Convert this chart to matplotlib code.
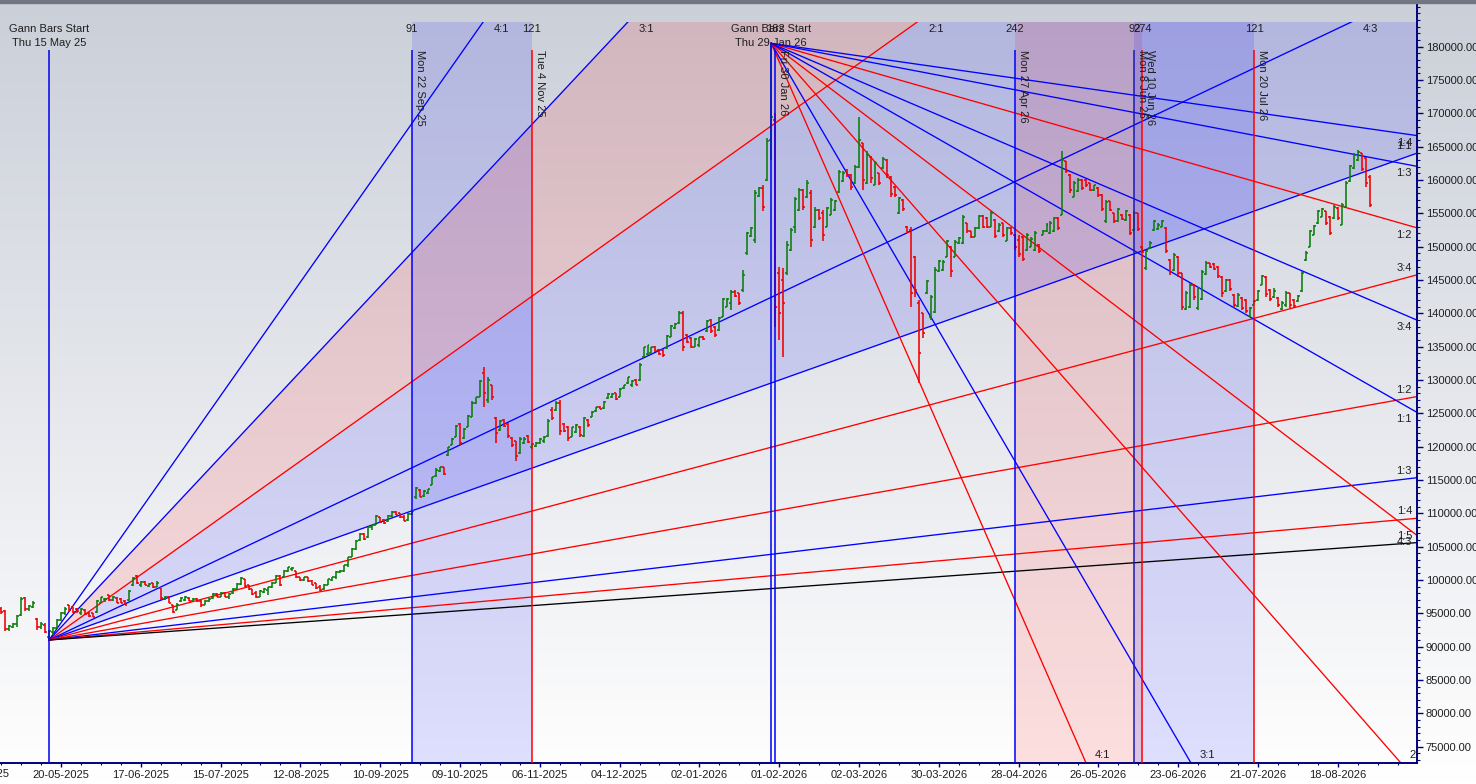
import numpy as np
import matplotlib.pyplot as plt
import matplotlib.transforms as mtransforms
from matplotlib.collections import LineCollection
from matplotlib.patches import Rectangle, Polygon

plt.rcParams['font.family'] = ['Liberation Sans', 'DejaVu Sans']

# ---------------- data ----------------
# bar index 0 = Thu 15 May 25 (first Gann start); prices in thousands
first_bar = -12
opens = [
    95.6, 95.3, 92.6, 93.0, 93.4, 94.7, 97.3, 95.7, 96.0, 94.2,
    92.9, 93.3, 91.5, 92.2, 92.8, 94.0, 95.0, 96.2, 95.9, 95.7,
    95.0, 95.5, 95.1, 95.0, 95.2, 96.6, 97.1, 97.7, 97.0, 97.3,
    97.1, 96.9, 97.0, 99.2, 100.6, 99.2, 99.7, 99.1, 99.5, 99.0,
    98.8, 97.1, 97.5, 96.3, 95.5, 96.8, 97.0, 97.3, 96.8, 97.2,
    96.9, 96.2, 96.8, 97.3, 97.9, 97.5, 98.1, 97.5, 98.0, 98.7,
    99.4, 100.1, 99.2, 98.6, 98.0, 97.5, 98.2, 98.5, 99.0, 99.6,
    100.6, 100.5, 101.3, 101.6, 101.3, 100.5, 100.0, 100.4, 99.9, 99.5,
    98.9, 98.6, 99.3, 100.0, 100.4, 101.2, 101.4, 102.2, 103.5, 104.6,
    106.0, 106.9, 106.4, 107.9, 108.3, 109.5, 109.0, 108.8, 109.6, 110.2,
    110.0, 109.5, 109.0, 109.9, 112.4, 113.5, 112.6, 113.1, 114.3, 115.6,
    116.3, 117.0, 118.8, 120.3, 121.5, 123.4, 121.3, 123.0, 124.5, 126.5,
    127.5, 131.0, 127.0, 129.2, 124.3, 122.5, 124.0, 123.4, 121.3, 120.8,
    119.0, 120.5, 121.6, 120.0, 120.1, 120.5, 120.8, 121.6, 125.5, 125.5,
    126.5, 123.4, 123.0, 121.5, 122.2, 123.0, 121.6, 124.0, 124.5, 125.3,
    126.0, 125.8, 127.3, 127.5, 128.0, 127.5, 128.8, 129.5, 129.2, 130.0,
    130.0, 133.5, 133.9, 134.1, 135.0, 134.5, 134.5, 134.8, 136.5, 137.8,
    138.5, 140.1, 136.8, 136.3, 135.0, 135.2, 136.5, 137.3, 139.0, 138.0,
    137.5, 139.5, 141.0, 141.5, 143.2, 143.0, 143.5, 149.0, 151.6, 151.0,
    157.6, 158.8, 160.0, 166.0, 169.0, 146.0, 145.0, 146.0, 149.5, 153.0,
    155.5, 158.5, 157.5, 158.0, 153.0, 155.5, 155.0, 153.0, 154.8, 155.5,
    158.2, 159.8, 161.5, 160.8, 159.5, 162.0, 165.5, 159.5, 163.5, 159.3,
    161.0, 161.8, 163.0, 160.5, 159.0, 155.0, 157.0, 153.0, 152.5, 148.5,
    141.5, 140.0, 143.0, 139.5, 140.2, 146.3, 146.5, 148.5, 150.0, 148.5,
    150.5, 150.5, 153.5, 152.3, 151.5, 152.8, 154.6, 154.3, 153.0, 154.0,
    152.3, 153.5, 150.9, 152.8, 151.8, 151.0, 151.5, 149.5, 150.0, 149.5,
    150.3, 151.8, 152.3, 152.0, 152.3, 154.3, 154.8, 162.8, 160.8, 157.5,
    158.3, 160.0, 160.0, 159.5, 158.5, 158.8, 157.8, 153.8, 156.8, 155.0,
    153.8, 154.8, 154.0, 154.8, 152.5, 155.0, 150.0, 146.8, 149.8, 152.5,
    152.6, 153.0, 152.8, 148.0, 146.5, 148.5, 146.0, 140.6, 141.0, 144.3,
    140.8, 142.2, 145.9, 147.5, 147.4, 147.0, 145.5, 143.3, 145.0, 142.8,
    141.1, 142.3, 142.0, 139.6, 141.3, 142.0, 144.3, 145.5, 143.5, 142.5,
    142.3, 140.6, 141.2, 143.0, 142.0, 141.8, 143.3, 148.0, 150.0, 151.8,
    153.5, 154.5, 155.3, 154.5, 154.3, 155.8, 153.3, 156.0, 159.8, 161.8,
    163.0, 164.0, 163.3, 160.5,
]
highs = [
    95.9, 95.5, 93.3, 93.6, 94.8, 97.5, 97.4, 96.3, 96.8, 94.3,
    93.7, 93.5, 92.5, 93.0, 94.2, 95.2, 95.9, 96.3, 96.0, 95.8,
    95.8, 95.6, 95.2, 95.1, 97.0, 97.5, 97.3, 97.8, 97.6, 97.4,
    97.3, 97.0, 98.5, 100.5, 100.8, 99.8, 99.8, 99.5, 99.6, 99.8,
    98.8, 97.6, 97.6, 96.3, 96.5, 97.5, 97.6, 97.4, 97.3, 97.3,
    97.0, 97.0, 97.3, 98.0, 98.0, 98.2, 98.2, 98.0, 98.8, 99.5,
    100.5, 100.2, 99.3, 98.7, 98.3, 98.5, 98.8, 99.0, 99.7, 100.8,
    100.7, 101.5, 102.0, 102.0, 101.3, 100.5, 100.5, 100.4, 100.0, 99.5,
    99.2, 99.4, 100.2, 100.5, 101.3, 101.5, 102.3, 103.5, 104.8, 106.0,
    107.0, 107.0, 108.0, 108.3, 109.8, 109.5, 109.2, 109.8, 110.3, 110.3,
    110.1, 109.8, 110.0, 110.5, 114.0, 113.6, 113.5, 113.7, 115.5, 116.8,
    117.0, 117.0, 120.0, 121.3, 123.3, 123.5, 122.8, 124.8, 126.8, 127.5,
    130.0, 132.0, 130.5, 129.3, 124.5, 124.0, 124.1, 123.5, 121.4, 120.8,
    121.5, 121.4, 121.8, 120.6, 120.7, 121.3, 121.6, 124.1, 126.0, 126.8,
    127.0, 123.5, 123.1, 123.0, 123.4, 123.1, 124.5, 124.1, 125.3, 126.0,
    126.1, 126.8, 128.0, 128.0, 128.1, 128.8, 129.3, 130.5, 130.0, 130.1,
    132.5, 135.0, 135.3, 135.0, 135.1, 134.6, 134.6, 136.8, 138.3, 138.5,
    140.3, 140.3, 136.9, 136.4, 136.3, 136.5, 136.6, 139.0, 139.1, 138.1,
    139.5, 142.3, 142.3, 143.5, 143.5, 143.1, 146.5, 152.2, 153.0, 158.5,
    159.0, 159.2, 166.3, 180.5, 170.0, 147.0, 146.8, 150.8, 152.8, 157.5,
    158.8, 158.6, 160.0, 158.5, 156.0, 155.6, 155.5, 156.0, 157.3, 157.0,
    161.5, 161.3, 161.6, 160.9, 162.3, 169.5, 165.6, 164.3, 163.6, 162.8,
    161.1, 163.5, 163.1, 160.6, 159.1, 157.5, 157.1, 153.1, 153.0, 148.6,
    142.0, 140.1, 145.0, 142.8, 147.0, 148.0, 148.0, 151.0, 150.1, 151.0,
    151.5, 154.8, 153.6, 152.4, 153.0, 154.8, 154.8, 154.4, 155.3, 154.1,
    153.5, 153.6, 153.0, 152.9, 151.9, 151.8, 151.6, 152.0, 151.5, 152.3,
    150.4, 152.5, 153.5, 153.8, 154.5, 154.4, 164.3, 162.9, 160.9, 159.8,
    160.3, 160.1, 160.1, 159.6, 159.3, 158.9, 157.9, 157.0, 156.9, 155.1,
    155.8, 154.9, 155.5, 154.9, 155.3, 155.1, 150.1, 149.5, 150.8, 154.0,
    153.5, 154.0, 152.9, 148.1, 149.0, 148.6, 146.1, 143.3, 144.5, 144.4,
    144.0, 146.5, 147.8, 147.6, 147.5, 147.1, 145.6, 145.2, 145.1, 142.9,
    143.0, 142.4, 142.1, 141.0, 142.0, 143.5, 145.8, 145.6, 143.6, 143.8,
    142.4, 141.8, 143.3, 143.1, 142.1, 142.8, 146.3, 149.3, 152.5, 153.3,
    155.5, 155.8, 155.4, 154.6, 156.3, 155.9, 156.5, 159.8, 162.3, 164.0,
    164.5, 164.1, 163.4, 160.8,
]
lows = [
    94.9, 92.3, 92.4, 92.8, 93.0, 94.6, 95.3, 95.4, 95.8, 92.5,
    92.7, 92.0, 91.0, 91.8, 92.6, 93.8, 94.8, 95.4, 95.0, 95.1,
    94.8, 94.7, 94.5, 94.4, 95.1, 96.5, 96.7, 96.9, 96.8, 96.5,
    96.5, 96.2, 96.9, 99.1, 99.4, 99.0, 99.2, 99.0, 98.8, 98.9,
    97.0, 97.0, 96.5, 95.0, 95.5, 96.7, 96.9, 96.8, 96.8, 96.7,
    96.0, 96.2, 96.7, 97.2, 97.4, 97.4, 97.4, 97.2, 97.9, 98.5,
    99.3, 99.0, 98.5, 97.8, 97.3, 97.4, 98.0, 97.8, 98.8, 99.5,
    99.1, 100.4, 101.2, 101.3, 100.3, 99.9, 99.8, 99.7, 99.2, 98.7,
    98.4, 98.5, 99.2, 99.8, 100.2, 101.0, 101.2, 102.0, 103.4, 104.5,
    105.9, 106.0, 106.3, 107.5, 108.2, 108.5, 108.4, 108.7, 109.5, 109.7,
    109.3, 108.8, 108.9, 109.8, 112.2, 112.4, 112.5, 112.9, 114.2, 115.5,
    116.2, 115.8, 118.6, 120.2, 121.4, 120.3, 121.2, 122.9, 124.4, 126.4,
    127.4, 126.0, 126.5, 127.0, 120.5, 122.3, 122.9, 121.3, 120.0, 117.8,
    118.9, 120.4, 120.5, 119.7, 119.9, 120.4, 120.6, 121.5, 124.0, 125.4,
    121.8, 122.2, 120.8, 121.4, 122.0, 121.5, 121.5, 123.0, 124.4, 125.2,
    125.6, 125.7, 127.2, 127.3, 127.0, 127.4, 128.6, 129.4, 128.9, 129.2,
    129.9, 133.4, 133.8, 134.0, 134.2, 133.7, 133.5, 134.7, 136.4, 137.7,
    138.4, 134.3, 135.5, 134.8, 134.9, 135.0, 136.0, 137.2, 137.0, 136.5,
    137.4, 139.4, 140.9, 140.5, 142.4, 141.3, 143.2, 148.8, 151.5, 150.5,
    157.5, 155.3, 159.8, 163.0, 138.0, 136.0, 133.5, 145.8, 149.4, 152.0,
    155.4, 155.5, 157.3, 150.0, 152.8, 154.0, 150.8, 152.9, 154.7, 155.4,
    158.0, 159.7, 160.5, 158.5, 159.4, 161.8, 158.5, 159.4, 159.5, 159.2,
    159.3, 161.7, 160.3, 157.5, 157.5, 154.9, 155.3, 152.0, 141.0, 142.5,
    129.5, 136.3, 142.9, 139.0, 140.0, 146.2, 146.3, 148.4, 145.5, 148.4,
    150.4, 150.4, 152.0, 151.3, 151.4, 152.7, 152.8, 152.8, 152.9, 151.3,
    152.2, 151.5, 150.8, 151.8, 149.5, 148.5, 147.8, 149.4, 149.9, 149.4,
    149.0, 151.7, 152.2, 151.9, 152.2, 152.5, 154.7, 161.0, 158.0, 157.4,
    158.2, 158.5, 159.0, 158.3, 158.4, 157.5, 155.3, 153.5, 155.3, 153.5,
    153.7, 154.0, 153.9, 151.8, 152.4, 152.3, 149.0, 146.5, 149.7, 152.4,
    152.5, 152.9, 149.0, 145.8, 146.4, 145.5, 140.5, 140.5, 140.8, 142.0,
    140.5, 142.0, 145.8, 146.8, 146.5, 145.3, 142.5, 143.2, 143.3, 140.8,
    141.0, 140.5, 140.0, 139.5, 141.2, 141.9, 144.2, 142.5, 141.8, 142.3,
    141.0, 140.5, 141.0, 140.8, 140.8, 141.7, 143.2, 147.9, 149.9, 151.7,
    153.4, 154.4, 153.3, 151.8, 154.2, 154.0, 153.2, 155.9, 159.7, 161.7,
    162.9, 161.3, 159.0, 156.0,
]
closes = [
    95.2, 92.6, 93.1, 93.4, 94.6, 97.2, 95.7, 96.1, 96.5, 92.9,
    93.4, 92.2, 92.3, 92.8, 94.0, 95.0, 95.7, 95.5, 95.2, 95.3,
    95.6, 94.9, 94.6, 94.5, 96.8, 97.4, 97.2, 97.0, 97.5, 96.6,
    96.6, 96.3, 98.4, 100.3, 99.6, 99.7, 99.3, 99.4, 98.9, 99.6,
    97.3, 97.5, 96.6, 95.2, 96.3, 97.3, 97.4, 96.9, 97.2, 96.8,
    96.2, 96.8, 97.2, 97.9, 97.5, 98.1, 97.5, 97.9, 98.7, 99.4,
    100.3, 99.1, 98.6, 97.9, 97.4, 98.3, 98.6, 98.9, 99.5, 100.6,
    99.3, 101.4, 101.9, 101.8, 100.5, 100.0, 100.4, 99.8, 99.3, 98.8,
    98.5, 99.3, 100.1, 100.4, 101.2, 101.4, 102.2, 103.4, 104.7, 105.9,
    106.9, 106.2, 107.9, 108.2, 109.6, 108.7, 108.5, 109.6, 110.2, 109.8,
    109.4, 108.9, 109.9, 110.4, 113.8, 112.5, 113.4, 113.6, 115.4, 116.5,
    116.9, 115.9, 119.9, 121.2, 123.1, 120.6, 122.7, 124.6, 126.6, 127.4,
    129.8, 128.0, 130.0, 127.4, 122.0, 123.8, 123.1, 121.6, 120.3, 118.6,
    121.2, 121.2, 120.7, 120.4, 120.6, 121.2, 121.5, 123.9, 124.3, 126.6,
    122.4, 122.4, 121.3, 122.9, 123.2, 121.8, 124.3, 123.2, 125.2, 125.9,
    125.7, 126.7, 127.9, 127.9, 127.1, 128.7, 129.2, 130.4, 129.9, 129.3,
    132.3, 134.9, 135.2, 134.9, 134.4, 133.9, 133.7, 136.6, 138.1, 138.4,
    140.1, 135.0, 135.7, 135.0, 136.2, 136.4, 136.1, 138.8, 137.3, 136.7,
    139.3, 142.1, 142.2, 143.2, 142.6, 141.6, 145.8, 152.0, 152.8, 158.0,
    158.8, 156.0, 165.8, 169.5, 141.0, 140.0, 141.5, 150.3, 152.5, 157.2,
    158.5, 156.0, 159.5, 151.0, 155.5, 154.3, 151.8, 155.8, 157.0, 156.8,
    161.2, 161.0, 160.7, 158.9, 162.0, 166.0, 160.0, 163.8, 160.3, 162.5,
    159.6, 163.2, 160.8, 157.9, 157.7, 157.3, 155.6, 152.2, 143.0, 143.5,
    134.0, 137.0, 144.8, 142.5, 146.5, 147.8, 147.7, 150.8, 146.3, 150.7,
    151.3, 154.5, 152.3, 151.5, 152.8, 154.6, 153.0, 153.0, 155.1, 151.6,
    153.3, 151.8, 152.8, 152.0, 150.0, 148.9, 148.2, 151.7, 151.2, 152.0,
    149.3, 152.3, 153.3, 153.5, 154.3, 152.8, 163.0, 161.3, 158.5, 159.5,
    160.0, 158.8, 159.2, 158.5, 159.2, 157.7, 155.6, 156.7, 155.5, 153.8,
    155.6, 154.2, 155.3, 152.1, 155.0, 152.6, 149.2, 149.3, 150.6, 153.8,
    153.3, 153.8, 149.4, 146.2, 148.7, 146.0, 141.0, 143.0, 144.2, 142.4,
    143.8, 146.2, 147.5, 147.0, 146.7, 145.6, 143.0, 145.0, 143.6, 141.2,
    142.8, 140.8, 140.4, 140.8, 141.9, 143.3, 145.6, 142.9, 142.1, 143.3,
    141.3, 141.6, 143.0, 141.2, 141.1, 142.6, 146.0, 149.1, 152.3, 153.1,
    155.3, 155.6, 153.6, 152.1, 156.0, 154.3, 156.2, 159.5, 162.1, 163.8,
    164.2, 161.7, 159.5, 156.3,
]

date_labels = ['20-05-2025', '17-06-2025', '15-07-2025', '12-08-2025', '10-09-2025',
               '09-10-2025', '06-11-2025', '04-12-2025', '02-01-2026', '01-02-2026',
               '02-03-2026', '30-03-2026', '28-04-2026', '26-05-2026', '23-06-2026',
               '21-07-2026', '18-08-2026']
first_label_bar = 3
label_step = 20

fan1_origin = (0, 91000)
fan1_unit = 213          # price per bar for 1:1
fan1_ratios = ['4:1', '3:1', '2:1', '4:3', '1:1', '3:4', '1:2', '1:3', '1:4', '1:5']
fan1_colors = ['blue', 'blue', 'red', 'blue', 'blue', 'red', 'red', 'blue', 'red', 'black']
fan1_fills = [('3:1', '2:1', 'red'), ('2:1', '4:3', 'blue'), ('4:3', '1:1', 'blue')]

fan2_origin = (181, 180500)
fan2_unit = 342
fan2_ratios = ['4:1', '3:1', '2:1', '4:3', '1:1', '3:4', '1:2', '1:3', '1:4']
fan2_colors = ['red', 'blue', 'red', 'red', 'blue', 'blue', 'red', 'blue', 'blue']

starts = [(0, 'Thu 15 May 25'), (181, 'Thu 29 Jan 26')]
markers = [(91, 'Mon 22 Sep 25', 'blue', '91'), (121, 'Tue 4 Nov 25', 'red', '121'),
           (182, 'Fri 30 Jan 26', 'blue', '182'), (242, 'Mon 27 Apr 26', 'blue', '242'),
           (272, 'Mon 8 Jun 26', '#1a1ab0', '92'), (274, 'Wed 10 Jun 26', 'red', '274'),
           (302, 'Mon 20 Jul 26', 'red', '121')]
bands = [(91, 121, 'blue'), (242, 274, 'red'), (272, 302, 'blue')]

# ---------------- figure ----------------
W, H = 1476, 784
PT = 0.72  # points per pixel at dpi 100
fig = plt.figure(figsize=(W / 100, H / 100), dpi=100)

bg = fig.add_axes([0, 0, 1, 1], zorder=0)
t = np.linspace(0, 1, 256)[:, None, None]
top_col = np.array([0.795, 0.812, 0.850])
img = top_col * (1 - t) + np.array([1.0, 1.0, 1.0]) * t
bg.imshow(img, aspect='auto', extent=[0, 1, 0, 1])
bg.axis('off')
fig.patches.append(Rectangle((0, 1 - 2.5 / H), 1, 2.5 / H, transform=fig.transFigure,
                             color='#717684', zorder=5))

ax = fig.add_axes([0, 21 / H, 1417 / W, 760 / H], zorder=1)
ax.patch.set_visible(False)

xmin, xmax = -49 / 3.99, 1368 / 3.99
ymin, ymax = 72550, 186550
ytop = 183700
ax.set_xlim(xmin, xmax)
ax.set_ylim(ymin, ymax)

clip = Rectangle((xmin, ymin), xmax - xmin, ytop - ymin, transform=ax.transData)
col = {'blue': '#0000ff', 'red': '#ff0000', 'black': '#000000'}


def ratio(r):
    a, b = r.split(':')
    return float(a) / float(b)


def shifted(dx_px, dy_px):
    return ax.transData + mtransforms.ScaledTranslation(dx_px / 100, dy_px / 100,
                                                        fig.dpi_scale_trans)


# vertical bands
for a, b, c in bands:
    p = Rectangle((a, ymin), b - a, ytop - ymin, facecolor=col[c], alpha=0.12,
                  edgecolor='none', zorder=1)
    ax.add_patch(p)

# fan 1 fills
x0, p0 = fan1_origin
far = 5000
for ra, rb, c in fan1_fills:
    sa, sb = fan1_unit * ratio(ra), fan1_unit * ratio(rb)
    poly = Polygon([(x0, p0), (x0 + far, p0 + sa * far), (x0 + far, p0 + sb * far)],
                   closed=True, facecolor=col[c], alpha=0.12, edgecolor='none', zorder=1)
    ax.add_patch(poly)
    poly.set_clip_path(clip)

txt = dict(fontsize=8, color='#1e1e1e', zorder=6)

# fan 1 lines and labels
for r, c in zip(fan1_ratios, fan1_colors):
    s = fan1_unit * ratio(r)
    ln, = ax.plot([x0, x0 + far], [p0, p0 + s * far], color=col[c], lw=0.95, zorder=2)
    ln.set_clip_path(clip)
    p_end = p0 + s * (xmax - x0)
    if p_end > ytop:
        hit = x0 + (ytop - p0) / s
        ax.text(hit, ytop, r, transform=shifted(11, -7), ha='left', va='center', **txt)
    else:
        ax.text(xmax, p_end, r, transform=shifted(-5, 7), ha='right', va='center', **txt)

# fan 2 lines and labels
x2, p2 = fan2_origin
for r, c in zip(fan2_ratios, fan2_colors):
    s = fan2_unit * ratio(r)
    ln, = ax.plot([x2, x2 + far], [p2, p2 - s * far], color=col[c], lw=0.95, zorder=2)
    ln.set_clip_path(clip)
    p_end = p2 - s * (xmax - x2)
    if p_end < ymin:
        hit = x2 + (p2 - ymin) / s
        ax.text(hit, ymin, r, transform=shifted(9, 8), ha='left', va='center',
                clip_on=True, **txt)
    else:
        ax.text(xmax, p_end, r, transform=shifted(-5, -7), ha='right', va='center', **txt)

# price bars (OHLC)
segs, cols = [], []
for k in range(len(closes)):
    i = first_bar + k
    o, h, l, c = opens[k] * 1000, highs[k] * 1000, lows[k] * 1000, closes[k] * 1000
    cc = '#0a7d0a' if c >= o else '#f00000'
    segs += [[(i, l), (i, h)], [(i - 0.5, o), (i, o)], [(i, c), (i + 0.5, c)]]
    cols += [cc, cc, cc]
ax.add_collection(LineCollection(segs, colors=cols, linewidths=1.15, zorder=3))

# vertical start lines and markers
y_lab1 = 180000 + (46.7 - 29) * 150
y_lab2 = 180000 + (46.7 - 43) * 150
y_line = 180000 + (46.7 - 50) * 150
for i, d in starts:
    y_from = fan2_origin[1] if i == fan2_origin[0] else y_line
    ax.vlines(i, ymin, y_from, colors='#0000ee', lw=1.1, zorder=4)
    ax.text(i, y_lab1, 'Gann Bars Start', ha='center', va='center', **txt)
    ax.text(i, y_lab2, d, ha='center', va='center', **txt)

for i, d, c, n in markers:
    ax.vlines(i, ymin, y_line, colors=col.get(c, c), lw=1.1, zorder=4)
    ax.text(i, y_line, d, transform=shifted(3, 0), rotation=270, ha='left', va='top', **txt)
    ax.text(i, y_lab1, n, ha='center', va='center', **txt)

# axes styling
for s in ['left', 'top']:
    ax.spines[s].set_visible(False)
for s in ['right', 'bottom']:
    ax.spines[s].set_color('#00007a')
    ax.spines[s].set_linewidth(1.4)

xt = [first_label_bar + label_step * k for k in range(len(date_labels))]
ax.set_xticks(xt, date_labels)
ax.set_xticks(np.arange(-12, 343, 5), minor=True)
ax.annotate('22-04-2025', (first_label_bar - label_step, 0), xycoords=('data', 'axes fraction'),
            xytext=(0, -6 * PT), textcoords='offset points', ha='center', va='top',
            annotation_clip=False, fontsize=8, color='#1e1e1e')

ax.yaxis.tick_right()
yt = list(range(75000, 180001, 5000))
ax.set_yticks(yt, [f'{v:.2f}' for v in yt])
ax.set_yticks(np.arange(73000, 186001, 1000), minor=True)

ax.tick_params(axis='x', which='major', length=4 * PT, width=1, color='#00007a',
               labelsize=8, labelcolor='#1e1e1e', pad=2)
ax.tick_params(axis='x', which='minor', length=2.5 * PT, width=0.8, color='#00007a')
ax.tick_params(axis='y', which='major', length=6 * PT, width=1, color='#00007a',
               labelsize=8, labelcolor='#1e1e1e', pad=2)
ax.tick_params(axis='y', which='minor', length=3 * PT, width=0.8, color='#00007a')

fig.savefig('out.png', dpi=100)
